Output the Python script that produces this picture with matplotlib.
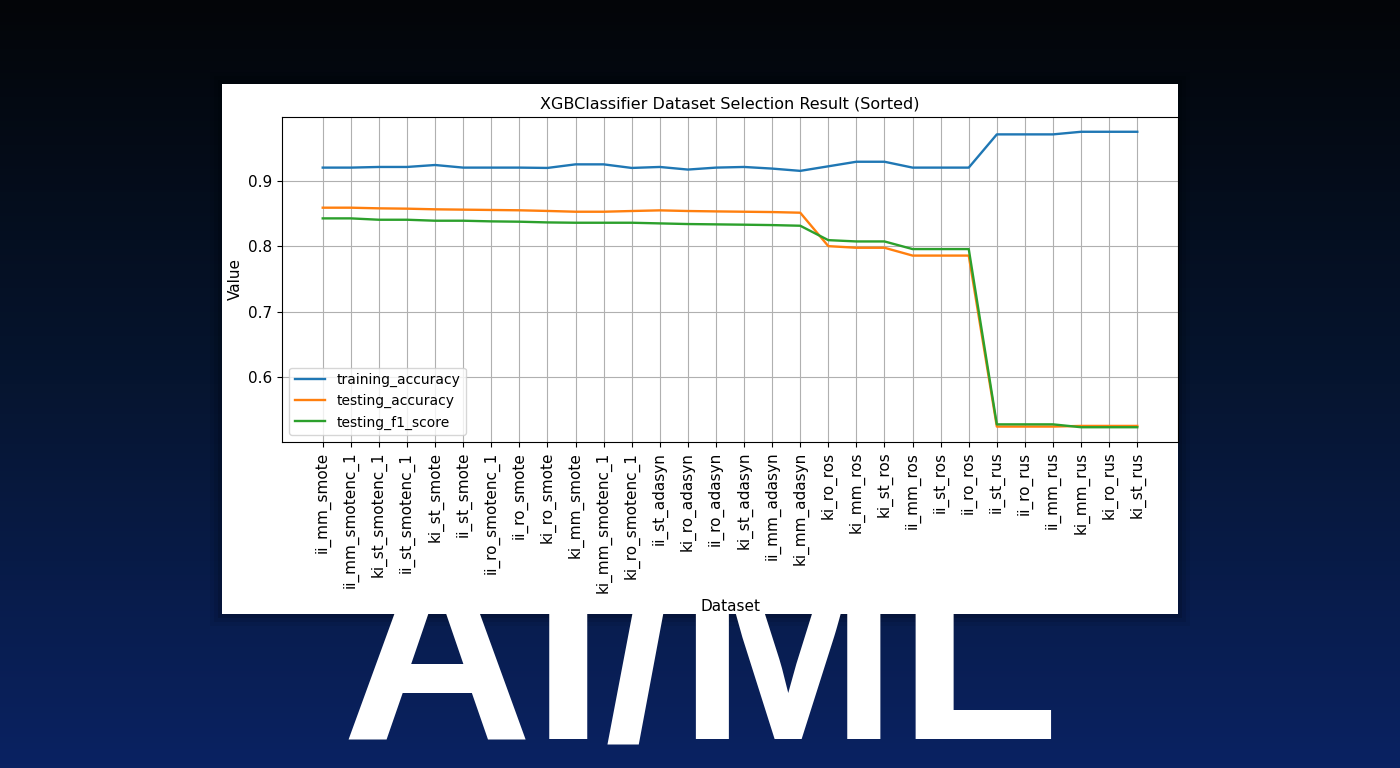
import numpy as np
import matplotlib
matplotlib.use("Agg")
import matplotlib.pyplot as plt
from matplotlib.patches import Rectangle
from matplotlib.colors import LinearSegmentedColormap

datasets = ["ii_mm_smote","ii_mm_smotenc_1","ki_st_smotenc_1","ii_st_smotenc_1","ki_st_smote",
            "ii_st_smote","ii_ro_smotenc_1","ii_ro_smote","ki_ro_smote","ki_mm_smote",
            "ki_mm_smotenc_1","ki_ro_smotenc_1","ii_st_adasyn","ki_ro_adasyn","ii_ro_adasyn",
            "ki_st_adasyn","ii_mm_adasyn","ki_mm_adasyn","ki_ro_ros","ki_mm_ros",
            "ki_st_ros","ii_mm_ros","ii_st_ros","ii_ro_ros","ii_st_rus",
            "ii_ro_rus","ii_mm_rus","ki_mm_rus","ki_ro_rus","ki_st_rus"]
training_accuracy = [0.921,0.921,0.922,0.922,0.925,0.921,0.921,0.921,0.9205,0.926,
                     0.926,0.9205,0.922,0.918,0.921,0.922,0.9195,0.916,0.923,0.930,
                     0.930,0.921,0.921,0.921,0.972,0.972,0.972,0.976,0.976,0.976]
testing_accuracy = [0.8595,0.8595,0.8585,0.858,0.857,0.8565,0.856,0.8555,0.8545,0.8533,
                    0.8533,0.8544,0.8554,0.8544,0.8538,0.8533,0.8528,0.8518,0.8005,0.798,
                    0.798,0.786,0.786,0.786,0.5236,0.5236,0.5236,0.5246,0.5246,0.5246]
testing_f1_score = [0.8431,0.8431,0.841,0.841,0.8395,0.8395,0.8385,0.838,0.8369,0.8364,
                    0.8364,0.8364,0.8354,0.8344,0.8339,0.8334,0.8328,0.8318,0.8097,0.8077,
                    0.8077,0.796,0.796,0.796,0.527,0.527,0.527,0.5226,0.5226,0.5226]

fig = plt.figure(figsize=(14, 7.68), dpi=100)
bg = fig.add_axes([0, 0, 1, 1])
grad = np.linspace(0, 1, 256)[:, None]
cmap = LinearSegmentedColormap.from_list("bg", ["#030508", "#061530", "#0a2262"])
bg.imshow(grad, aspect="auto", cmap=cmap, extent=[0, 1, 0, 1], origin="upper")
bg.set_xlim(0, 1); bg.set_ylim(0, 1); bg.axis("off")
bg.text(0.5, 30/768, "AI/ML", color="white", fontsize=190, fontweight="bold",
        ha="center", va="baseline", family="Liberation Sans")
for i, a in enumerate([0.05, 0.08, 0.12]):
    d = (3 - i) * 4
    bg.add_patch(Rectangle((222/1400 - d/1400, 154/768 - d/768), 956/1400 + 2*d/1400, 530/768 + 2*d/768,
                           color="black", alpha=a, lw=0))
bg.add_patch(Rectangle((222/1400, 154/768), 956/1400, 530/768, color="white", lw=0))

fs = 11
ax = fig.add_axes([282/1400, 326/768, 896/1400, 325/768])
x = np.arange(len(datasets))
ax.plot(x, training_accuracy, label="training_accuracy", color="#1f77b4", lw=1.7)
ax.plot(x, testing_accuracy, label="testing_accuracy", color="#ff7f0e", lw=1.7)
ax.plot(x, testing_f1_score, label="testing_f1_score", color="#2ca02c", lw=1.7)
ax.set_xticks(x)
ax.set_xticklabels(datasets, rotation=90, fontsize=fs)
ax.tick_params(axis="y", labelsize=fs)
ax.set_yticks([0.6, 0.7, 0.8, 0.9])
ax.grid(True, color="#b0b0b0")
ax.set_title("XGBClassifier Dataset Selection Result (Sorted)", fontsize=11.5)
ax.set_xlabel("Dataset", fontsize=fs, labelpad=4)
ax.set_ylabel("Value", fontsize=fs)
ax.legend(loc="lower left", fontsize=10, handlelength=2.2)
fig.savefig("out.png", dpi=100)
